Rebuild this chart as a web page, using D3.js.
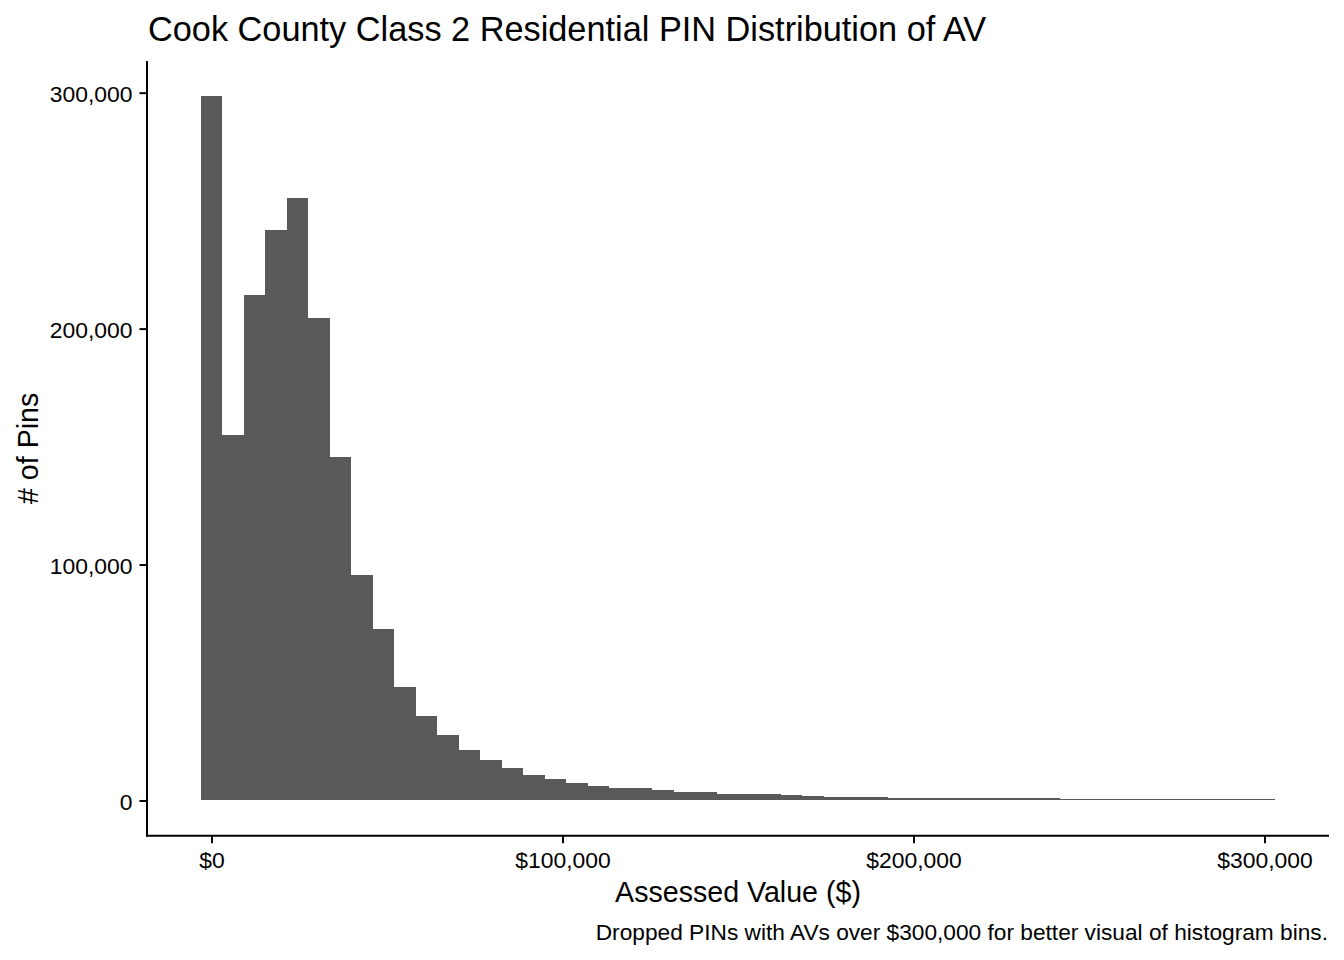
<!DOCTYPE html>
<html>
<head>
<meta charset="utf-8">
<script src="https://cdn.jsdelivr.net/npm/d3@7"></script>
<style>
  html, body { margin: 0; padding: 0; background: #fff; }
  svg { display: block; }
  text { font-family: "Liberation Sans", Arial, sans-serif; fill: #000; }
</style>
</head>
<body>
<svg id="chart" width="1344" height="960"></svg>
<script>
// ---- data (50 bins centred on 0 .. 300,000) ----
const binCount = 50;
const xMaxValue = 300000;
const counts = [
  298500, 155000, 214400, 241900, 255500, 204600, 145700, 95700, 72800, 48200,
  35900, 27900, 21500, 17300, 13600, 11000, 9300, 7600, 6350, 5500,
  5100, 4600, 3800, 3750, 2950, 2900, 2550, 2500, 2100, 1650,
  1600, 1550, 1250, 1220, 1200, 1180, 1150, 1120, 880, 860,
  840, 820, 800, 780, 760, 740, 720, 480, 460, 440
];
const xTicks = [0, 100000, 200000, 300000];
const yTicks = [0, 100000, 200000, 300000];
const titleText = "Cook County Class 2 Residential PIN Distribution of AV";
const xTitle = "Assessed Value ($)";
const yTitle = "# of Pins";
const captionText = "Dropped PINs with AVs over $300,000 for better visual of histogram bins.";

// ---- layout ----
const svg = d3.select("#chart");
const pLeft = 147, pRight = 1329, pTop = 61, pBottom = 835.7;
const binWidth = xMaxValue / (binCount - 1);
const bins = counts.map((c, i) => ({ x0: i * binWidth - binWidth / 2, x1: i * binWidth + binWidth / 2, count: c }));

const xMin = bins[0].x0, xMax = bins[bins.length - 1].x1;
const xPad = (xMax - xMin) * 0.05;
const x = d3.scaleLinear().domain([xMin - xPad, xMax + xPad]).range([pLeft, pRight]);
const yMaxC = d3.max(counts);
const y = d3.scaleLinear().domain([-0.05 * yMaxC, 1.05 * yMaxC]).range([pBottom, pTop]);

const fontTick = 22.9;

// bars
svg.append("g").selectAll("rect").data(bins).join("rect")
  .attr("x", d => x(d.x0))
  .attr("width", d => x(d.x1) - x(d.x0))
  .attr("y", d => y(d.count))
  .attr("height", d => y(0) - y(d.count))
  .attr("fill", "#595959")
  .attr("shape-rendering", "crispEdges");

// axes
const fmtDollar = d => "$" + d3.format(",")(d);
const xAxis = svg.append("g").attr("transform", `translate(0,${pBottom})`)
  .call(d3.axisBottom(x).tickValues(xTicks).tickFormat(fmtDollar).tickSize(7.5).tickSizeOuter(0).tickPadding(10));
const yAxis = svg.append("g").attr("transform", `translate(${pLeft},0)`)
  .call(d3.axisLeft(y).tickValues(yTicks).tickFormat(d3.format(",")).tickSize(7.5).tickSizeOuter(0).tickPadding(7));

[xAxis, yAxis].forEach(a => {
  a.select(".domain").attr("stroke", "#000").attr("stroke-width", 2);
  a.selectAll(".tick line").attr("stroke", "#000").attr("stroke-width", 2);
  a.selectAll(".tick text").attr("font-size", fontTick).attr("fill", "#000")
    .attr("font-family", '"Liberation Sans", Arial, sans-serif');
});
xAxis.select(".domain").attr("d", `M${pLeft - 1},0H${pRight}`);
yAxis.select(".domain").attr("d", `M0,${pTop}V${pBottom + 1}`);
xAxis.selectAll(".tick text").attr("dy", null).attr("y", 32.3);
yAxis.selectAll(".tick text").attr("dy", "0.39em");

// titles
svg.append("text").attr("x", 148).attr("y", 41).attr("font-size", 34.3).text(titleText);
svg.append("text").attr("x", (pLeft + pRight) / 2).attr("y", 902).attr("text-anchor", "middle")
  .attr("font-size", 28.6).text(xTitle);
svg.append("text").attr("transform", `translate(38,${(pTop + pBottom) / 2}) rotate(-90)`)
  .attr("text-anchor", "middle").attr("font-size", 28.6).text(yTitle);
svg.append("text").attr("x", 1328).attr("y", 940).attr("text-anchor", "end")
  .attr("font-size", 22.7).text(captionText);
</script>
</body>
</html>
